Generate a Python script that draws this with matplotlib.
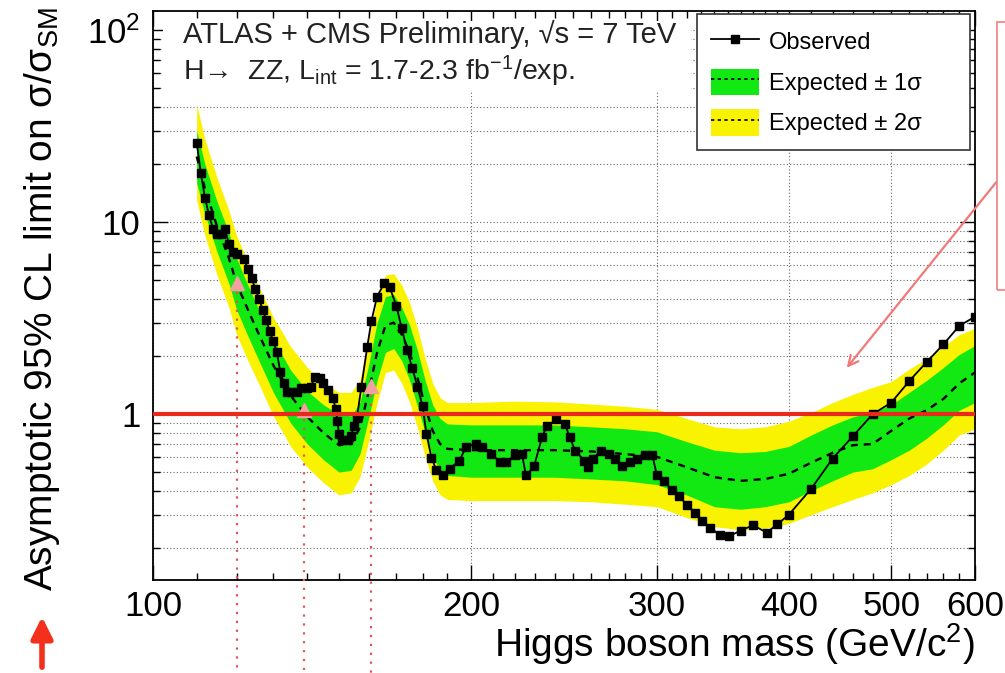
import numpy as np
import matplotlib
matplotlib.use("Agg")
import matplotlib.pyplot as plt
from matplotlib.lines import Line2D
from matplotlib.patches import Patch, Rectangle
from matplotlib.ticker import FixedLocator, FixedFormatter, NullFormatter

plt.rcParams['font.family'] = ['Liberation Sans', 'DejaVu Sans']
plt.rcParams['mathtext.fontset'] = 'custom'
plt.rcParams['mathtext.rm'] = 'Liberation Sans'
plt.rcParams['mathtext.it'] = 'Liberation Sans:italic'
plt.rcParams['mathtext.bf'] = 'Liberation Sans:bold'

# Observed limit (mass in GeV, limit on sigma/sigma_SM)
mass_obs = [110, 111, 112, 113, 114, 115, 116, 117, 118, 119, 120, 122, 123, 124, 125,
            126, 127, 128, 129, 130, 131, 132, 133, 134, 135, 137, 138, 140, 141, 142.5,
            144, 145, 146.5, 148, 149, 149.5, 150, 151, 153, 154, 155, 156, 157.5, 159.5,
            161, 163, 165.5, 167.5, 170, 172, 174, 176, 178, 180, 181.5, 183.5, 185.5,
            188, 191, 195, 198, 202, 205, 209, 213, 216, 220, 223.5, 225.5, 229.5, 233.5,
            236, 241, 245.5, 248, 251, 256, 258, 261, 265.5, 270, 274, 278, 283, 287, 292,
            297, 300, 304.5, 310, 315, 320, 326, 331, 337, 344, 351, 360, 370, 381, 390,
            400, 420, 440, 460, 480, 500, 520, 540, 560, 580, 600]
obs = [26, 18, 13.4, 10.9, 9.2, 8.7, 8.7, 9.2, 7.7, 7.0, 6.8, 6.4, 5.7, 5.1, 4.5,
       4.0, 3.5, 3.1, 2.7, 2.4, 2.1, 1.66, 1.46, 1.30, 1.31, 1.31, 1.37, 1.37, 1.39, 1.57,
       1.55, 1.46, 1.34, 1.22, 1.06, 0.92, 0.79, 0.73, 0.73, 0.77, 0.87, 0.96, 1.39, 2.23,
       3.07, 4.1, 4.8, 4.6, 3.66, 2.8, 2.15, 1.74, 1.39, 1.10, 0.79, 0.595, 0.51,
       0.48, 0.52, 0.574, 0.677, 0.70, 0.677, 0.62, 0.567, 0.567, 0.61, 0.62, 0.48, 0.535, 0.76,
       0.868, 0.94, 0.89, 0.76, 0.646, 0.574, 0.53, 0.588, 0.646, 0.62, 0.588, 0.535, 0.567, 0.588, 0.61,
       0.61, 0.48, 0.448, 0.403, 0.375, 0.337, 0.307, 0.279, 0.257, 0.234, 0.231, 0.248, 0.264, 0.242, 0.267,
       0.30, 0.41, 0.588, 0.77, 1.0, 1.15, 1.49, 1.87, 2.31, 2.89, 3.22]

# Expected limit and bands
mass_exp = [110, 112, 115, 118, 120, 123, 126, 130, 135, 140, 145, 150, 154, 157, 160,
            163, 166, 169, 172, 175, 178, 181, 184, 187, 190, 200, 220, 240, 260, 280,
            300, 320, 340, 360, 380, 400, 420, 440, 460, 480, 500, 520, 540, 560, 580, 600]
exp_med = [22, 15, 9.5, 6.5, 4.8, 3.5, 2.6, 1.8, 1.25, 0.97, 0.80, 0.69, 0.70, 0.85, 1.3,
           2.1, 2.9, 3.0, 2.6, 2.1, 1.55, 1.1, 0.82, 0.70, 0.66, 0.65, 0.65, 0.65, 0.64, 0.62,
           0.60, 0.53, 0.47, 0.45, 0.46, 0.49, 0.56, 0.63, 0.69, 0.70, 0.82, 0.95, 1.05, 1.2, 1.45, 1.65]
exp_m1 = [16, 11, 7.0, 4.8, 3.5, 2.55, 1.9, 1.3, 0.9, 0.7, 0.58, 0.50, 0.51, 0.62, 0.95,
          1.5, 2.1, 2.2, 1.9, 1.5, 1.1, 0.8, 0.6, 0.51, 0.48, 0.47, 0.47, 0.47, 0.46, 0.45,
          0.43, 0.38, 0.33, 0.32, 0.33, 0.35, 0.40, 0.45, 0.50, 0.52, 0.58, 0.65, 0.75, 0.88, 1.05, 1.15]
exp_p1 = [30, 20, 12.8, 8.8, 6.5, 4.7, 3.5, 2.45, 1.7, 1.32, 1.12, 1.0, 0.98, 1.15, 1.8,
          3.0, 4.1, 4.2, 3.6, 2.9, 2.15, 1.5, 1.12, 0.95, 0.89, 0.88, 0.88, 0.88, 0.86, 0.84,
          0.81, 0.72, 0.65, 0.63, 0.64, 0.68, 0.78, 0.88, 0.97, 1.02, 1.12, 1.3, 1.5, 1.75, 2.05, 2.28]
exp_m2 = [13, 8.5, 5.3, 3.6, 2.6, 1.9, 1.43, 0.98, 0.68, 0.53, 0.44, 0.38, 0.39, 0.47, 0.72,
          1.15, 1.65, 1.7, 1.45, 1.15, 0.85, 0.6, 0.45, 0.38, 0.36, 0.355, 0.355, 0.355, 0.35, 0.34,
          0.33, 0.29, 0.26, 0.25, 0.255, 0.27, 0.30, 0.33, 0.36, 0.39, 0.43, 0.48, 0.55, 0.65, 0.78, 0.84]
exp_p2 = [41, 27, 17, 11.5, 8.5, 6.2, 4.6, 3.2, 2.25, 1.75, 1.45, 1.3, 1.3, 1.5, 2.5,
          4.0, 5.3, 5.4, 4.7, 3.8, 2.8, 1.95, 1.45, 1.22, 1.15, 1.15, 1.17, 1.16, 1.13, 1.10,
          1.06, 0.95, 0.86, 0.84, 0.86, 0.92, 1.02, 1.15, 1.27, 1.38, 1.48, 1.72, 1.95, 2.25, 2.6, 2.8]

# points marked on the expected curve
mark_mass = [120, 139, 161]
mark_val = [4.8, 1.05, 1.4]

x_ticks = [100, 200, 300, 400, 500, 600]
x_minor = list(range(110, 400, 10)) + list(range(420, 600, 20))
y_ticks = [1, 10, 100]
y_labels = ['1', '10', '$10^{2}$']
y_minor = [0.2, 0.3, 0.4, 0.5, 0.6, 0.7, 0.8, 0.9, 2, 3, 4, 5, 6, 7, 8, 9,
           20, 30, 40, 50, 60, 70, 80, 90]

green = '#12e812'
yellow = '#f9f200'

fig = plt.figure(figsize=(10.05, 6.73), dpi=100)
ax = fig.add_axes([0.1522, 0.1382, 0.8179, 0.8455])
ax.set_xscale('log')
ax.set_yscale('log')
ax.set_xlim(100, 600)
ax.set_ylim(0.137, 126)

ax.fill_between(mass_exp, exp_m2, exp_p2, color=yellow, lw=0, zorder=1)
ax.fill_between(mass_exp, exp_m1, exp_p1, color=green, lw=0, zorder=1.1)
ax.plot(mass_exp, exp_med, color='black', ls=(0, (3, 2.5)), lw=1.7, zorder=2)
ax.plot(mass_obs, obs, color='black', lw=1.3, marker='s', ms=5.5, zorder=3)
ax.axhline(1, color='#e82a1c', lw=3, zorder=5)

# annotation marks and dotted lines down through the axis
for m, v in zip(mark_mass, mark_val):
    ax.plot([m, m], [v, 0.04], color='#e25555', ls=(0, (1, 3)), lw=1.6,
            clip_on=False, zorder=4)
ax.plot(mark_mass, mark_val, '^', color='#f5a0a0', ms=10, zorder=4.5, clip_on=False)

# axes and grid
ax.xaxis.set_major_locator(FixedLocator(x_ticks))
ax.xaxis.set_major_formatter(FixedFormatter([str(t) for t in x_ticks]))
ax.xaxis.set_minor_locator(FixedLocator(x_minor))
ax.xaxis.set_minor_formatter(NullFormatter())
ax.yaxis.set_major_locator(FixedLocator(y_ticks))
ax.yaxis.set_major_formatter(FixedFormatter(y_labels))
ax.yaxis.set_minor_locator(FixedLocator(y_minor))
ax.yaxis.set_minor_formatter(NullFormatter())
ax.set_axisbelow(True)
ax.grid(True, which='both', axis='y', color='#666666', ls=(0, (1, 2)), lw=0.8)
ax.grid(True, which='major', axis='x', color='#666666', ls=(0, (1, 2)), lw=0.8)
ax.tick_params(which='both', direction='in', top=True, right=True, labelsize=25, width=1)
ax.tick_params(which='major', length=11)
ax.tick_params(which='minor', length=5)
ax.tick_params(axis='x', pad=7)
ax.tick_params(axis='y', pad=9)
for s in ax.spines.values():
    s.set_linewidth(1.3)

# white text pave hides the grid behind the header
ax.add_patch(Rectangle((0.012, 0.857), 0.643, 0.125, transform=ax.transAxes,
                       facecolor='white', edgecolor='none', zorder=0.8))
ax.text(0.0365, 0.958, 'ATLAS + CMS Preliminary, √s = 7 TeV', transform=ax.transAxes,
        fontsize=21, va='center', ha='left', color='#222222')
ax.text(0.0365, 0.893, 'H→  ZZ, L$_{\\mathrm{int}}$ = 1.7-2.3 fb$^{\\mathrm{-1}}$/exp.',
        transform=ax.transAxes, fontsize=20.5, va='center', ha='left', color='#222222')

ax.set_xlabel('Higgs boson mass (GeV/c$^{2}$)', fontsize=28, ha='right', va='center')
ax.xaxis.set_label_coords(1.0, -0.112)
ax.set_ylabel('Asymptotic 95% CL limit on σ/σ$_{\\mathrm{SM}}$', fontsize=28, va='center')
ax.yaxis.set_label_coords(-0.135, 0.494)

handles = [Line2D([], [], color='black', lw=1.3, marker='s', ms=5.5),
           (Patch(facecolor=green, edgecolor='none'),
            Line2D([], [], color='black', ls=(0, (2, 2)), lw=1.2)),
           (Patch(facecolor=yellow, edgecolor='none'),
            Line2D([], [], color='black', ls=(0, (2, 2)), lw=1.2))]
labels = ['Observed', 'Expected ± 1σ', 'Expected ± 2σ']
leg = ax.legend(handles, labels, loc='upper left', bbox_to_anchor=(0.662, 0.756, 0.332, 0.239),
                mode='expand', fontsize=17, frameon=True, fancybox=False,
                handlelength=2.0, handleheight=1.35, handletextpad=0.45,
                labelspacing=0.6, borderpad=0.6, borderaxespad=0)
leg.get_frame().set_edgecolor('#333333')
leg.get_frame().set_linewidth(1.2)
leg.get_frame().set_alpha(1)

# overlay annotations outside the plot
ax.annotate('', xy=(42 / 1005, 1 - 614 / 673), xytext=(42 / 1005, 1 - 670 / 673),
            xycoords='figure fraction', textcoords='figure fraction',
            arrowprops=dict(arrowstyle='-|>', color='#f2301c', lw=4, mutation_scale=32))
ax.annotate('', xy=(845 / 1005, 1 - 370 / 673), xytext=(998 / 1005, 1 - 180 / 673),
            xycoords='figure fraction', textcoords='figure fraction',
            arrowprops=dict(arrowstyle='->', color='#f07a7a', lw=1.6, mutation_scale=18))
fig.add_artist(Rectangle((997 / 1005, 1 - 290 / 673), 0.05, 268 / 673,
                         transform=fig.transFigure, fill=False, edgecolor='#f08080', lw=1.2))

fig.savefig('out.png', dpi=100)
